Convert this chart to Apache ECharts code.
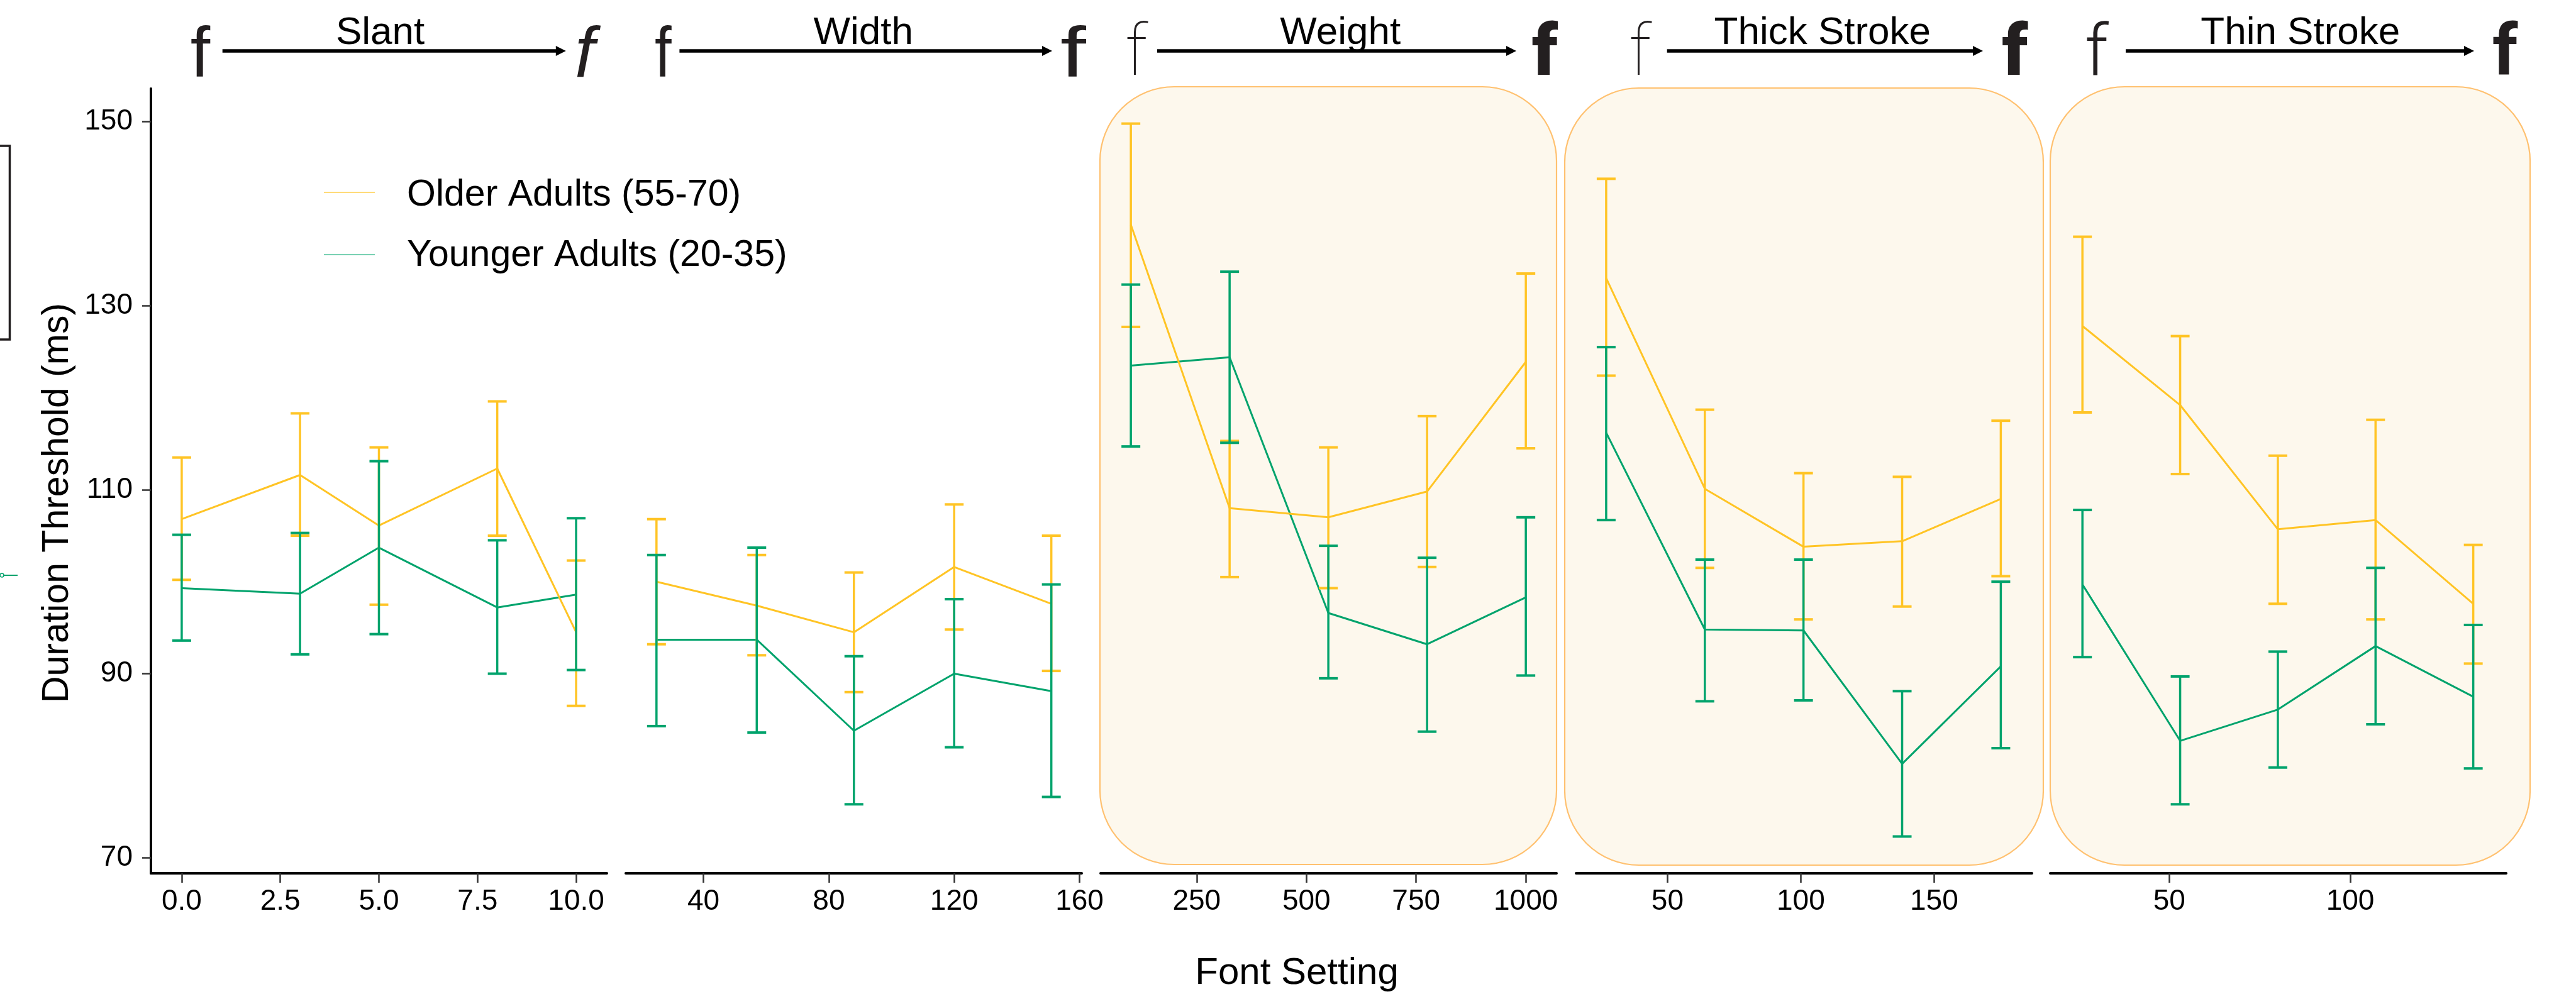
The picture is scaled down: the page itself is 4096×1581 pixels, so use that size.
<!DOCTYPE html>
<html>
<head>
<meta charset="utf-8">
<script src="https://cdn.jsdelivr.net/npm/echarts@6/dist/echarts.min.js"></script>
<style>
  html, body { margin: 0; padding: 0; background: #fff; }
  #chart { width: 4096px; height: 1581px; }
</style>
</head>
<body>
<div id="chart"></div>
<script>
// ---- data: [mean, lower, upper] per font setting ----
const slantX = [0, 3, 5, 8, 10];
const slantOlder = [[106.8, 100.2, 113.5], [111.6, 105.0, 118.3], [106.1, 97.5, 114.6], [112.3, 105.0, 119.6], [94.5, 86.5, 102.3]];
const slantYounger = [[99.3, 93.6, 105.1], [98.7, 92.1, 105.3], [103.7, 94.3, 113.1], [97.2, 90.0, 104.5], [98.6, 90.4, 106.9]];

const widthX = [25, 57, 88, 120, 151];
const widthOlder = [[100.0, 93.2, 106.8], [97.4, 92.0, 102.9], [94.5, 88.0, 101.0], [101.6, 94.8, 108.4], [97.6, 90.3, 105.0]];
const widthYounger = [[93.7, 84.3, 102.9], [93.7, 83.6, 103.7], [83.8, 75.8, 91.9], [90.0, 82.0, 98.1], [88.1, 76.6, 99.7]];

const weightX = [100, 325, 550, 775, 1000];
const weightOlder = [[138.8, 127.7, 149.8], [108.0, 100.5, 115.3], [107.0, 99.3, 114.6], [109.8, 101.6, 118.0], [123.9, 114.5, 133.5]];
const weightYounger = [[123.5, 114.7, 132.3], [124.4, 115.1, 133.7], [96.6, 89.5, 103.9], [93.2, 83.7, 102.6], [98.3, 89.8, 107.0]];

const thickX = [27, 64, 101, 138, 175];
const thickOlder = [[133.0, 122.4, 143.8], [110.1, 101.5, 118.7], [103.8, 95.9, 111.8], [104.4, 97.3, 111.4], [109.0, 100.6, 117.5]];
const thickYounger = [[116.2, 106.7, 125.5], [94.8, 87.0, 102.4], [94.7, 87.1, 102.4], [80.2, 72.3, 88.1], [90.8, 81.9, 100.0]];

const thinX = [26, 53, 80, 107, 134];
const thinOlder = [[127.8, 118.4, 137.5], [119.2, 111.7, 126.7], [105.7, 97.6, 113.7], [106.7, 95.9, 117.6], [97.6, 91.1, 104.0]];
const thinYounger = [[99.7, 91.8, 107.8], [82.7, 75.8, 89.7], [86.1, 79.8, 92.4], [93.0, 84.5, 101.5], [87.5, 79.7, 95.3]];

// tick labels
const yTicks = [70, 90, 110, 130, 150];
const slantTicks = [0, 2.5, 5, 7.5, 10];
const widthTicks = [40, 80, 120, 160];
const weightTicks = [250, 500, 750, 1000];
const thickTicks = [50, 100, 150];
const thinTicks = [50, 100];

const seriesNames = ['Older Adults (55-70)', 'Younger Adults (20-35)'];

// ---- styling ----
const OLDER = '#FFC425';
const YOUNGER = '#00A36C';
const FONT = '"Liberation Sans", Arial, sans-serif';

const panels = [
    { x: slantX,  older: slantOlder,  younger: slantYounger,  ticks: slantTicks,  min: -0.78, max: 10.78, fmt: v => v.toFixed(1) },
    { x: widthX,  older: widthOlder,  younger: widthYounger,  ticks: widthTicks,  min: 15.2,  max: 160.7 },
    { x: weightX, older: weightOlder, younger: weightYounger, ticks: weightTicks, min: 31,    max: 1070 },
    { x: thickX,  older: thickOlder,  younger: thickYounger,  ticks: thickTicks,  min: 15.7,  max: 186.7 },
    { x: thinX,   older: thinOlder,   younger: thinYounger,   ticks: thinTicks,   min: 17.1,  max: 143.1 }
];
const gridLefts = [240, 995, 1750, 2506, 3260];

// error bar drawn through the axis scales
function errorBar(color) {
    return function (params, api) {
        const x = api.value(0);
        const top = api.coord([x, api.value(2)]);
        const bot = api.coord([x, api.value(1)]);
        const hw = 15;
        return {
            type: 'group',
            children: [
                { type: 'line', shape: { x1: top[0], y1: top[1], x2: bot[0], y2: bot[1] }, style: { stroke: color, lineWidth: 3.5 } },
                { type: 'line', shape: { x1: top[0] - hw, y1: top[1], x2: top[0] + hw, y2: top[1] }, style: { stroke: color, lineWidth: 4 } },
                { type: 'line', shape: { x1: bot[0] - hw, y1: bot[1], x2: bot[0] + hw, y2: bot[1] }, style: { stroke: color, lineWidth: 4 } }
            ]
        };
    };
}

const grid = [], xAxis = [], yAxis = [], series = [];

panels.forEach((p, i) => {
    grid.push({ left: gridLefts[i], width: 725, top: 141, bottom: 192 });

    xAxis.push({
        type: 'value', gridIndex: i, min: p.min, max: p.max,
        axisLine: { show: true, onZero: false, lineStyle: { color: '#000', width: 4 } },
        axisTick: { show: true, customValues: p.ticks, length: 15, lineStyle: { color: '#333', width: 2.5 } },
        axisLabel: { customValues: p.ticks, formatter: p.fmt || (v => String(v)), margin: 22,
                     fontSize: 46, color: '#000', fontFamily: FONT },
        splitLine: { show: false }
    });

    yAxis.push({
        type: 'value', gridIndex: i, min: 68.3, max: 153.6, show: i === 0,
        axisLine: { show: true, onZero: false, lineStyle: { color: '#000', width: 4 } },
        axisTick: { show: true, customValues: yTicks, length: 14, lineStyle: { color: '#333', width: 2.5 } },
        axisLabel: { customValues: yTicks, margin: 29, fontSize: 46, color: '#000', fontFamily: FONT },
        splitLine: { show: false }
    });

    const groups = [[p.older, OLDER, seriesNames[0]], [p.younger, YOUNGER, seriesNames[1]]];

    groups.slice().reverse().forEach(([vals, color, name]) => {
        series.push({
            name: name, type: 'line', xAxisIndex: i, yAxisIndex: i,
            data: p.x.map((x, k) => [x, vals[k][0]]),
            showSymbol: false, z: 3,
            lineStyle: { color: color, width: 3 },
            itemStyle: { color: color }
        });
    });
    groups.forEach(([vals, color, name]) => {
        series.push({
            name: name, type: 'custom', xAxisIndex: i, yAxisIndex: i, z: 4,
            renderItem: errorBar(color),
            encode: { x: 0, y: [1, 2] },
            data: p.x.map((x, k) => [x, vals[k][1], vals[k][2]])
        });
    });
});

// ---- decoration: highlighted panels, header arrows, legend, titles ----
const graphic = [];

[[1749, 138, 726, 1237], [2488, 140, 761, 1236], [3260, 138, 763, 1238]].forEach(b => {
    graphic.push({
        type: 'rect', z: 0, silent: true,
        shape: { x: b[0], y: b[1], width: b[2], height: b[3], r: 118 },
        style: { fill: '#FDF8ED', stroke: '#FFC170', lineWidth: 2.2 }
    });
});

const headers = [
    { label: 'Slant',        cx: 604.6,  a1: 353.7,  a2: 899.8,
      left:  { x: 302.7,  weight: 'normal' },
      right: { x: 913.9,  weight: 'normal', style: 'italic' } },
    { label: 'Width',        cx: 1372.7, a1: 1080.4, a2: 1673,
      left:  { x: 1041,   weight: 'normal', sx: 0.85 },
      right: { x: 1686,   weight: 'normal', sx: 1.3 } },
    { label: 'Weight',       cx: 2131.2, a1: 1840,   a2: 2411,
      left:  { x: 1789,   weight: 100, fam: 'Roboto' },
      right: { x: 2436,   weight: 900, fam: 'Roboto' } },
    { label: 'Thick Stroke', cx: 2897.8, a1: 2650.7, a2: 3153,
      left:  { x: 2590,   weight: 100, fam: 'Roboto' },
      right: { x: 3183.5, weight: 900, fam: 'Roboto' } },
    { label: 'Thin Stroke',  cx: 3657.8, a1: 3380,   a2: 3934,
      left:  { x: 3315,   weight: 300, fam: 'Roboto' },
      right: { x: 3963,   weight: 700, fam: 'Roboto' } }
];

function fGlyph(g) {
    return {
        type: 'text', z: 5, x: g.x, y: 90.8, scaleX: g.sx || 1, originX: 0, originY: 0,
        style: {
            text: 'f', fill: '#231F20', fontSize: 113, fontWeight: g.weight,
            fontStyle: g.style || 'normal', fontFamily: g.fam || FONT,
            align: 'left', verticalAlign: 'middle'
        }
    };
}

headers.forEach(h => {
    graphic.push(fGlyph(h.left), fGlyph(h.right));
    graphic.push({
        type: 'line', z: 5,
        shape: { x1: h.a1, y1: 81, x2: h.a2 - 12, y2: 81 },
        style: { stroke: '#000', lineWidth: 5.6 }
    });
    graphic.push({
        type: 'polygon', z: 5,
        shape: { points: [[h.a2 - 16, 73], [h.a2, 81], [h.a2 - 16, 89]] },
        style: { fill: '#000' }
    });
    graphic.push({
        type: 'text', z: 5, x: h.cx, y: 52.6,
        style: { text: h.label, fill: '#000', fontSize: 62, fontFamily: FONT, align: 'center', verticalAlign: 'middle' }
    });
});

// legend
[[seriesNames[0], '#FFCF4D', 306, 310.4], [seriesNames[1], '#4DC29A', 405, 406.4]].forEach(l => {
    graphic.push({ type: 'line', z: 5, shape: { x1: 515, y1: l[2], x2: 596, y2: l[2] }, style: { stroke: l[1], lineWidth: 1.6 } });
    graphic.push({
        type: 'text', z: 5, x: 647, y: l[3],
        style: { text: l[0], fill: '#000', fontSize: 59, fontFamily: FONT, align: 'left', verticalAlign: 'middle' }
    });
});

// axis titles
graphic.push({
    type: 'text', z: 5, x: 92, y: 800, rotation: Math.PI / 2,
    style: { text: 'Duration Threshold (ms)', fill: '#000', fontSize: 59, fontFamily: FONT, align: 'center', verticalAlign: 'middle' }
});
graphic.push({
    type: 'text', z: 5, x: 2062, y: 1548.4,
    style: { text: 'Font Setting', fill: '#000', fontSize: 60, fontFamily: FONT, align: 'center', verticalAlign: 'middle' }
});

// cropped fragments at the left edge of the figure
graphic.push({
    type: 'polyline', z: 5,
    shape: { points: [[0, 232], [15.5, 232], [15.5, 540], [0, 540]] },
    style: { stroke: '#231F20', lineWidth: 3.5, fill: null }
});
graphic.push({ type: 'line', z: 5, shape: { x1: 2, y1: 915, x2: 28, y2: 915 }, style: { stroke: YOUNGER, lineWidth: 2 } });
graphic.push({ type: 'circle', z: 5, shape: { cx: 3, cy: 915, r: 3 }, style: { stroke: YOUNGER, fill: '#fff', lineWidth: 1.5 } });

const chart = echarts.init(document.getElementById('chart'));
chart.setOption({
    backgroundColor: '#fff',
    animation: false,
    grid: grid,
    xAxis: xAxis,
    yAxis: yAxis,
    series: series,
    graphic: graphic
});
</script>
</body>
</html>
